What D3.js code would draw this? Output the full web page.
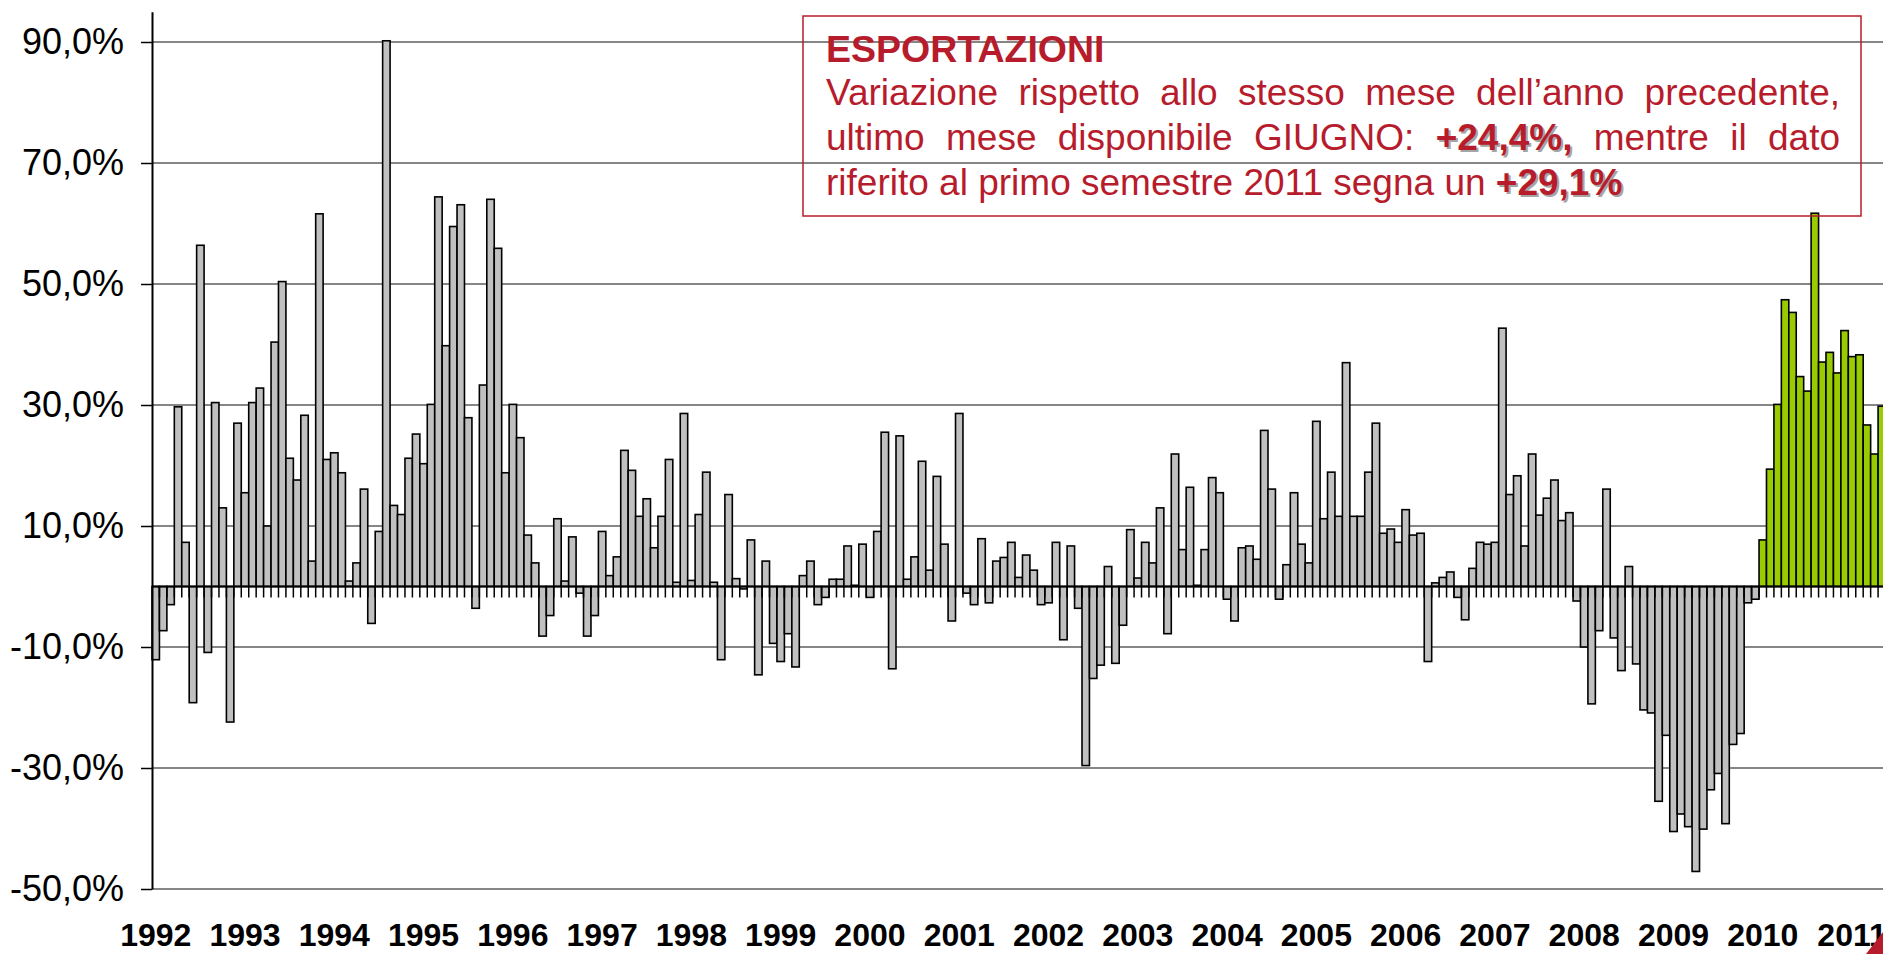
<!DOCTYPE html>
<html>
<head>
<meta charset="utf-8">
<script src="https://cdn.jsdelivr.net/npm/d3@7"></script>
<style>
body { margin: 0; background: #fff; overflow: hidden; }
svg { display: block; font-family: Arial, "Liberation Sans", sans-serif; }
</style>
</head>
<body>
<svg id="grafico"></svg>
<script>
// Anni sull'asse x (etichetta sul mese di gennaio)
const anni = ['1992', '1993', '1994', '1995', '1996', '1997', '1998', '1999', '2000', '2001',
    '2002', '2003', '2004', '2005', '2006', '2007', '2008', '2009', '2010', '2011'];

// Variazione % rispetto allo stesso mese dell'anno precedente, gen 1992 - dic 2009 (barre grigie)
const variazioniStoriche = [
    -12.1, -7.3, -3.0, 29.7, 7.3, -19.2, 56.4, -10.9, 30.4, 13.0, -22.4, 27.0,
    15.5, 30.4, 32.8, 10.0, 40.4, 50.4, 21.2, 17.6, 28.3, 4.2, 61.6, 21.0,
    22.1, 18.8, 0.9, 3.9, 16.1, -6.1, 9.1, 90.2, 13.4, 11.9, 21.2, 25.2,
    20.3, 30.1, 64.4, 39.8, 59.5, 63.1, 27.9, -3.6, 33.3, 64.0, 55.9, 18.8,
    30.1, 24.6, 8.5, 3.9, -8.2, -4.8, 11.2, 0.9, 8.2, -1.1, -8.2, -4.8,
    9.1, 1.8, 4.9, 22.5, 19.2, 11.6, 14.5, 6.4, 11.6, 21.0, 0.7, 28.6,
    1.0, 11.9, 18.9, 0.7, -12.1, 15.2, 1.3, -0.4, 7.7, -14.6, 4.2, -9.4,
    -12.4, -7.8, -13.3, 1.8, 4.2, -3.0, -1.8, 1.2, 1.2, 6.7, 0.2, 7.0,
    -1.8, 9.1, 25.5, -13.6, 24.9, 1.2, 4.9, 20.7, 2.7, 18.2, 7.0, -5.7,
    28.6, -1.1, -3.0, 7.9, -2.7, 4.2, 4.8, 7.3, 1.5, 5.2, 2.7, -3.0,
    -2.7, 7.3, -8.8, 6.7, -3.6, -29.6, -15.2, -13.0, 3.3, -12.7, -6.4, 9.4,
    1.4, 7.3, 3.9, 13.0, -7.8, 21.9, 6.1, 16.4, 0.2, 6.1, 18.0, 15.5,
    -2.1, -5.7, 6.4, 6.7, 4.5, 25.8, 16.1, -2.1, 3.6, 15.5, 7.0, 3.9,
    27.3, 11.2, 18.9, 11.6, 37.0, 11.6, 11.6, 18.9, 27.0, 8.8, 9.5, 7.3,
    12.7, 8.5, 8.8, -12.4, 0.6, 1.5, 2.4, -1.8, -5.5, 3.0, 7.3, 7.0,
    7.3, 42.7, 15.2, 18.3, 6.7, 21.9, 11.8, 14.6, 17.6, 10.9, 12.2, -2.4,
    -10.0, -19.4, -7.3, 16.1, -8.5, -13.9, 3.3, -12.8, -20.4, -20.9, -35.5, -24.6,
    -40.5, -37.6, -39.7, -47.1, -40.1, -33.6, -30.9, -39.2, -26.1, -24.3, -2.7, -2.1
];

// gen 2010 - giu 2011 (barre verdi)
const variazioniRecenti = [
    7.7, 19.4, 30.1, 47.4, 45.3, 34.7, 32.3, 61.7, 37.1, 38.7, 35.3, 42.3,
    38.0, 38.3, 26.7, 21.9, 29.8, 24.4
];

// Valori delle tacche sull'asse y
const tickY = [-50, -30, -10, 10, 30, 50, 70, 90];

// Testo del riquadro
const titolo = 'ESPORTAZIONI';
const righe = [
    [{ t: 'Variazione rispetto allo stesso mese dell’anno precedente,' }],
    [{ t: 'ultimo mese disponibile GIUGNO:' }, { t: '+24,4%,', b: true }, { t: 'mentre il dato' }],
    [{ t: 'riferito al primo semestre 2011 segna un' }, { t: '+29,1%', b: true }]
];

var anchura = 1883,
    altura = 954,
    sinistra = 152,
    passo = 7.44;
var rosso = '#B71C2C';

var svg = d3.select('#grafico')
    .attr('width', anchura)
    .attr('height', altura);

//Unire le due serie con la chiave del mese
var dati = [];
variazioniStoriche.forEach(v => dati.push({ valore: v, recente: false }));
variazioniRecenti.forEach(v => dati.push({ valore: v, recente: true }));
dati.forEach((d, i) => {
    d.chiave = anni[Math.floor(i / 12)] + '-' + (i % 12 + 1);
});

var x = d3.scaleBand()
    .domain(dati.map(d => d.chiave))
    .range([sinistra, sinistra + dati.length * passo])
    .paddingInner(0)
    .paddingOuter(0);

var y = d3.scaleLinear()
    .domain([-50, 95])
    .range([889, 889 - 145 * (847 / 140)]);

//Griglia orizzontale
svg.append('g')
    .selectAll('line')
    .data(tickY)
    .join('line')
    .attr('x1', sinistra)
    .attr('x2', anchura)
    .attr('y1', d => y(d))
    .attr('y2', d => y(d))
    .style('stroke', '#868686')
    .style('stroke-width', 1.8);

//Barre
svg.append('g')
    .selectAll('rect')
    .data(dati)
    .join('rect')
    .attr('x', d => x(d.chiave))
    .attr('width', x.bandwidth())
    .attr('y', d => y(Math.max(0, d.valore)))
    .attr('height', d => Math.abs(y(d.valore) - y(0)))
    .style('fill', d => d.recente ? '#99CC00' : '#C0C0C0')
    .style('stroke', '#000')
    .style('stroke-width', 1.6);

//Asse delle categorie sullo zero, con tacche tra i mesi
var asseX = svg.append('g');
asseX.append('line')
    .attr('x1', sinistra)
    .attr('x2', sinistra + dati.length * passo)
    .attr('y1', y(0))
    .attr('y2', y(0))
    .style('stroke', '#000')
    .style('stroke-width', 2);
asseX.selectAll('.tacca')
    .data(dati)
    .join('line')
    .attr('class', 'tacca')
    .attr('x1', d => x(d.chiave) + x.bandwidth())
    .attr('x2', d => x(d.chiave) + x.bandwidth())
    .attr('y1', y(0))
    .attr('y2', y(0) + 11)
    .style('stroke', '#000')
    .style('stroke-width', 1.5);

//Etichette degli anni
svg.append('g')
    .selectAll('text')
    .data(anni)
    .join('text')
    .attr('x', d => x(d + '-1') + x.bandwidth() / 2)
    .attr('y', 946)
    .attr('text-anchor', 'middle')
    .style('font-size', '32px')
    .style('font-weight', 'bold')
    .style('fill', '#000')
    .text(d => d);

//Asse y
var asseY = svg.append('g')
    .attr('transform', 'translate(' + sinistra + ',0)')
    .call(d3.axisLeft(y)
        .tickValues(tickY)
        .tickSize(11)
        .tickSizeOuter(0)
        .tickPadding(17)
        .tickFormat(d => d3.format('.1f')(d).replace('.', ',').replace('−', '-') + '%'));
asseY.select('.domain').style('stroke', '#000').style('stroke-width', 2);
asseY.selectAll('.tick line').style('stroke', '#000').style('stroke-width', 1.5);
asseY.selectAll('.tick text')
    .style('font-size', '36px')
    .style('font-family', 'Arial, "Liberation Sans", sans-serif')
    .style('fill', '#000');

//Riquadro con il commento
var riquadro = svg.append('g');
riquadro.append('rect')
    .attr('x', 803)
    .attr('y', 16)
    .attr('width', 1058)
    .attr('height', 200)
    .style('fill', 'none')
    .style('stroke', rosso)
    .style('stroke-width', 1.5);

var xInizio = 826,
    xFine = 1840,
    corpo = 37;

riquadro.append('text')
    .attr('x', xInizio)
    .attr('y', 62)
    .style('font-size', '37.5px')
    .style('font-weight', 'bold')
    .style('fill', rosso)
    .text(titolo);

function larghezza(testo, grassetto) {
    var tmp = riquadro.append('text')
        .style('font-size', corpo + 'px')
        .style('font-weight', grassetto ? 'bold' : 'normal')
        .text(testo);
    var w = tmp.node().getComputedTextLength();
    tmp.remove();
    return w;
}

//Righe giustificate, parola per parola
function scriviRiga(riga, yRiga, giustifica) {
    var parole = [];
    riga.forEach(s => s.t.split(' ').forEach(p => parole.push({ t: p, b: !!s.b })));
    var misure = parole.map(p => larghezza(p.t, p.b));
    var spazio = giustifica
        ? (xFine - xInizio - d3.sum(misure)) / (parole.length - 1)
        : larghezza('a a', false) - larghezza('aa', false);
    var xp = xInizio;
    parole.forEach((p, i) => {
        if (p.b) {
            //ombra grigia dei numeri in grassetto
            riquadro.append('text')
                .attr('x', xp + 2)
                .attr('y', yRiga + 2)
                .style('font-size', corpo + 'px')
                .style('font-weight', 'bold')
                .style('fill', '#A5A5A5')
                .text(p.t);
        }
        riquadro.append('text')
            .attr('x', xp)
            .attr('y', yRiga)
            .style('font-size', corpo + 'px')
            .style('font-weight', p.b ? 'bold' : 'normal')
            .style('fill', rosso)
            .text(p.t);
        xp = xp + misure[i] + spazio;
    });
}

scriviRiga(righe[0], 105, true);
scriviRiga(righe[1], 150, true);
scriviRiga(righe[2], 195, false);

//Triangolo rosso nell'angolo in basso a destra
svg.append('path')
    .attr('d', 'M1866,954 L1883,932 L1883,954 Z')
    .style('fill', rosso);
</script>
</body>
</html>
